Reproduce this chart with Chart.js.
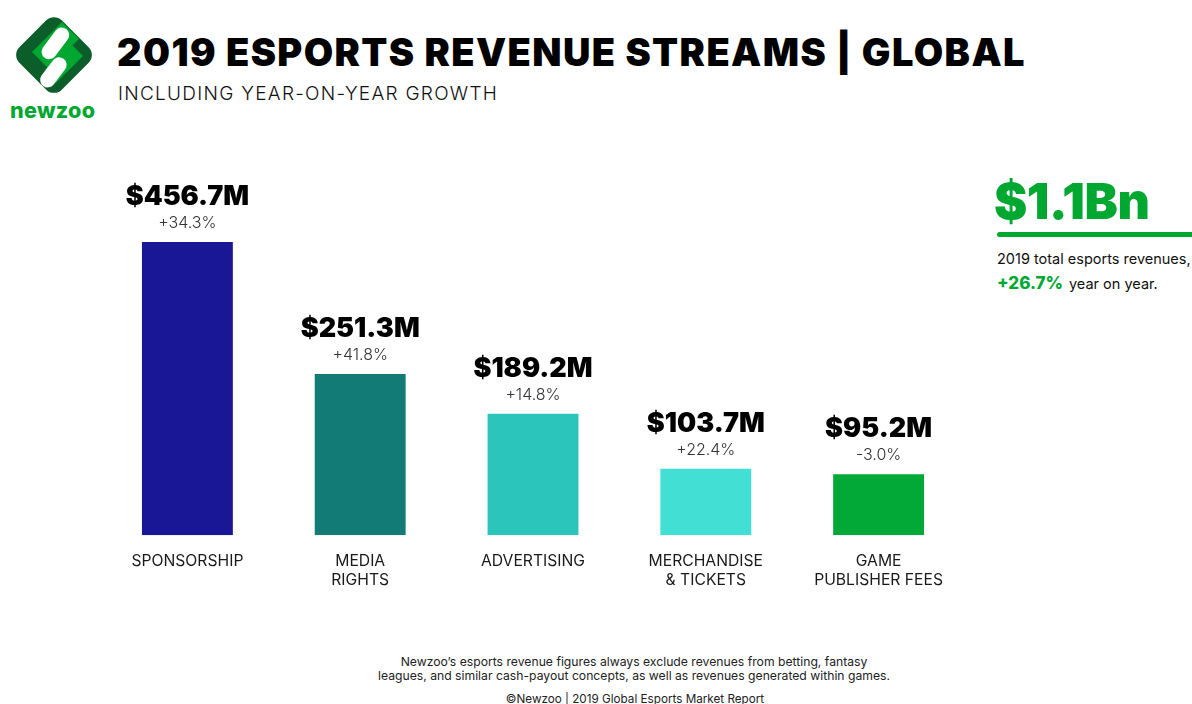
<!DOCTYPE html>
<html lang="en">
<head>
    <meta charset="UTF-8">
    <title>2019 Esports Revenue Streams | Global</title>
    <script src="https://cdn.jsdelivr.net/npm/chart.js"></script>
    <style>
        body { margin: 0; width: 1192px; height: 704px; background: #fff; position: relative; overflow: hidden; font-family: Inter, "Noto Sans", sans-serif; color: #111; }
        .abs { position: absolute; white-space: nowrap; }
        #title { left: 117px; top: 29px; font-size: 38px; font-weight: 900; letter-spacing: 1.4px; color: #000; }
        #subtitle { left: 118px; top: 82px; font-size: 19px; font-weight: 300; letter-spacing: 1.28px; color: #111; }
        #brand { left: 10px; top: 97px; font-size: 21.5px; font-weight: 800; color: #00a832; letter-spacing: 0.3px; }
        #total { left: 994px; top: 171px; font-size: 50px; font-weight: 900; color: #00a832; letter-spacing: -0.5px; }
        #rule { left: 997px; top: 232px; width: 200px; height: 5px; border-radius: 3px; background: #00a832; }
        #totalText1 { left: 997px; top: 250px; font-size: 14.5px; color: #111; }
        #totalText2 { left: 997px; top: 273px; font-size: 14.5px; color: #111; }
        #totalText2 b { color: #00a832; font-size: 17px; font-weight: 800; margin-right: 6px; }
        #note { left: 0; width: 1268px; top: 655px; text-align: center; font-size: 12.2px; line-height: 14px; color: #222; white-space: normal; }
        #copy { left: 0; width: 1270px; top: 692px; text-align: center; font-size: 11.7px; color: #222; }
        #chartBox { left: 101px; top: 150px; width: 864px; height: 457px; }
    </style>
</head>
<body>
    <svg class="abs" style="left:9px;top:10px" width="90" height="90" viewBox="0 0 90 90">
        <g transform="rotate(45 45 45)">
            <rect x="15" y="15" width="60" height="60" rx="11" fill="#0b5e2a"/>
        </g>
        <path d="M53 12 L70 29 L40 59 L23 42 Z" fill="#00a832"/>
        <path d="M62 34 L74 46 L47 73 L35 61 Z" fill="#00a832"/>
        <rect x="39" y="15" width="15" height="36" rx="7.5" fill="#fff" transform="rotate(37 46 33)"/>
        <rect x="37" y="45" width="15" height="34" rx="7.5" fill="#fff" transform="rotate(37 44 62)"/>
    </svg>
    <div class="abs" id="brand">newzoo</div>
    <div class="abs" id="title">2019 ESPORTS REVENUE STREAMS | GLOBAL</div>
    <div class="abs" id="subtitle">INCLUDING YEAR-ON-YEAR GROWTH</div>

    <div class="abs" id="total">$1.1Bn</div>
    <div class="abs" id="rule"></div>
    <div class="abs" id="totalText1">2019 total esports revenues,</div>
    <div class="abs" id="totalText2"><b>+26.7%</b>year on year.</div>

    <div class="abs" id="chartBox"><canvas id="myChart"></canvas></div>

    <div class="abs" id="note">Newzoo’s esports revenue figures always exclude revenues from betting, fantasy<br>leagues, and similar cash-payout concepts, as well as revenues generated within games.</div>
    <div class="abs" id="copy">©Newzoo | 2019 Global Esports Market Report</div>

    <script>
        // données
        const categories = [
            ['SPONSORSHIP'],
            ['MEDIA', 'RIGHTS'],
            ['ADVERTISING'],
            ['MERCHANDISE', '& TICKETS'],
            ['GAME', 'PUBLISHER FEES']
        ];
        const revenues = [456.7, 251.3, 189.2, 103.7, 95.2];   // millions USD
        const growth = [34.3, 41.8, 14.8, 22.4, -3.0];          // % year on year

        const barColors = ['#1a1797', '#137b76', '#2bc5bc', '#42e0d4', '#02a937'];

        // étiquettes au-dessus des barres
        const valueLabels = {
            id: 'valueLabels',
            afterDatasetsDraw(chart) {
                const ctx = chart.ctx;
                const meta = chart.getDatasetMeta(0);
                ctx.save();
                ctx.textAlign = 'center';
                ctx.textBaseline = 'middle';
                meta.data.forEach((bar, i) => {
                    ctx.fillStyle = '#000';
                    ctx.font = '900 27px Inter';
                    ctx.fillText('$' + revenues[i].toFixed(1) + 'M', bar.x, bar.y - 45);
                    ctx.fillStyle = '#333';
                    ctx.font = '300 16px Inter';
                    const g = growth[i];
                    ctx.fillText((g >= 0 ? '+' : '') + g.toFixed(1) + '%', bar.x, bar.y - 19);
                });
                ctx.restore();
            }
        };

        const ctx = document.getElementById('myChart').getContext('2d');
        new Chart(ctx, {
            type: 'bar',
            data: {
                labels: categories,
                datasets: [{
                    data: revenues,
                    backgroundColor: barColors,
                    borderWidth: 0,
                    barPercentage: 0.526,
                    categoryPercentage: 1
                }]
            },
            options: {
                responsive: true,
                maintainAspectRatio: false,
                animation: false,
                layout: { padding: 0 },
                scales: {
                    y: { display: false, min: 0, max: 600 },
                    x: {
                        grid: { display: false, drawTicks: false },
                        border: { display: false },
                        ticks: {
                            color: '#1a1a1a',
                            padding: 17,
                            font: { family: 'Inter', size: 15.7, weight: '400', lineHeight: 1.2 }
                        }
                    }
                },
                plugins: {
                    legend: { display: false },
                    tooltip: { enabled: false }
                }
            },
            plugins: [valueLabels]
        });
    </script>
</body>
</html>
